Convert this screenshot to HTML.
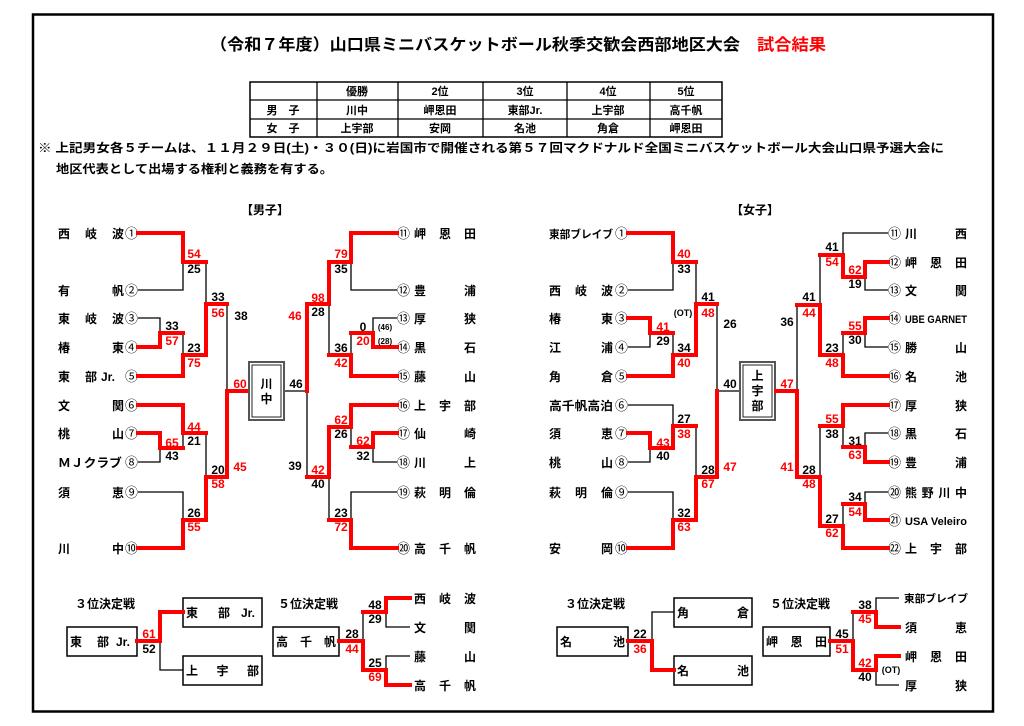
<!DOCTYPE html>
<html><head><meta charset="utf-8"><style>
html,body{margin:0;padding:0;background:#fff;}
svg{display:block;}
text{font-family:"Liberation Sans","Noto Sans CJK JP",sans-serif;font-weight:bold;fill:#000;}
.n{font-size:12px;}
.s{font-size:12px;}
.rd{fill:#f00;}
.c text,text.c{font-family:"Noto Sans CJK JP","DejaVu Sans",sans-serif;font-size:13px;font-weight:normal;}
.r{stroke:#f00;stroke-width:4;fill:none;stroke-linejoin:miter;stroke-linecap:square;}
.b{stroke:#000;stroke-width:1.3;fill:none;}
</style></head><body>
<svg width="1024" height="726" viewBox="0 0 1024 726" xmlns="http://www.w3.org/2000/svg">
<rect x="33" y="14.5" width="960" height="697" fill="none" stroke="#000" stroke-width="2.5"/>
<text x="210" y="50" font-size="16" textLength="530" lengthAdjust="spacingAndGlyphs">（令和７年度）山口県ミニバスケットボール秋季交歓会西部地区大会</text>
<text x="757" y="50" font-size="16" class="rd" textLength="69" lengthAdjust="spacingAndGlyphs">試合結果</text>

<!-- table -->
<g class="b" stroke-width="1">
<rect x="250" y="82" width="472" height="55" stroke-width="1.5"/>
<line x1="250" y1="100" x2="722" y2="100"/><line x1="250" y1="119" x2="722" y2="119"/>
<line x1="317" y1="82" x2="317" y2="137"/><line x1="398" y1="82" x2="398" y2="137"/>
<line x1="483" y1="82" x2="483" y2="137"/><line x1="567" y1="82" x2="567" y2="137"/>
<line x1="650" y1="82" x2="650" y2="137"/>
</g>
<g font-size="11" text-anchor="middle" style="font-weight:normal">
<text x="357" y="95">優勝</text><text x="440" y="95">2位</text><text x="525" y="95">3位</text><text x="608" y="95">4位</text><text x="686" y="95">5位</text>
<text x="283" y="114">男　子</text><text x="357" y="114">川中</text><text x="440" y="114">岬恩田</text><text x="525" y="114">東部Jr.</text><text x="608" y="114">上宇部</text><text x="686" y="114">高千帆</text>
<text x="283" y="132">女　子</text><text x="357" y="132">上宇部</text><text x="440" y="132">安岡</text><text x="525" y="132">名池</text><text x="608" y="132">角倉</text><text x="686" y="132">岬恩田</text>
</g>
<text x="38" y="152" font-size="12" textLength="906" lengthAdjust="spacingAndGlyphs">※ 上記男女各５チームは、１１月２９日(土)・３０(日)に岩国市で開催される第５７回マクドナルド全国ミニバスケットボール大会山口県予選大会に</text>
<text x="56" y="173" font-size="12" textLength="277" lengthAdjust="spacingAndGlyphs">地区代表として出場する権利と義務を有する。</text>

<text x="241" y="214" font-size="12">【男子】</text>
<text x="731" y="214" font-size="12">【女子】</text>

<!-- ===== MEN LEFT ===== -->
<g class="n">
<text x="58" y="238" textLength="66" lengthAdjust="spacing">西岐波</text>
<text x="58" y="295" textLength="66" lengthAdjust="spacing">有帆</text>
<text x="58" y="323" textLength="66" lengthAdjust="spacing">東岐波</text>
<text x="58" y="352" textLength="66" lengthAdjust="spacing">椿東</text>
<text x="58" y="381">東</text><text x="85" y="381">部</text><text x="101" y="381">Jr.</text>
<text x="58" y="410" textLength="66" lengthAdjust="spacing">文関</text>
<text x="58" y="438" textLength="66" lengthAdjust="spacing">桃山</text>
<text x="58" y="467" textLength="64" lengthAdjust="spacingAndGlyphs">ＭＪクラブ</text>
<text x="58" y="497" textLength="66" lengthAdjust="spacing">須恵</text>
<text x="58" y="553" textLength="66" lengthAdjust="spacing">川中</text>
</g>
<g class="c">
<text x="125" y="238">①</text><text x="125" y="295">②</text><text x="125" y="323">③</text><text x="125" y="352">④</text><text x="125" y="381">⑤</text>
<text x="125" y="410">⑥</text><text x="125" y="438">⑦</text><text x="125" y="467">⑧</text><text x="125" y="497">⑨</text><text x="125" y="553">⑩</text>
</g>
<g class="b">
<polyline points="138,290 183,290 183,262"/>
<polyline points="138,318 160,318 160,333"/>
<polyline points="183,333 183,355"/>
<polyline points="206,262 206,304"/>
<polyline points="138,462 160,462 160,448"/>
<polyline points="183,448 183,433"/>
<polyline points="138,492 183,492 183,520"/>
<polyline points="206,433 206,477"/>
<polyline points="227,304 227,391"/>
</g>
<g class="r">
<polyline points="138,233 183,233 183,262 206,262"/>
<polyline points="138,347 160,347 160,333 183,333"/>
<polyline points="138,376 183,376 183,355 206,355 206,304 227,304"/>
<polyline points="138,405 183,405 183,433 206,433"/>
<polyline points="138,433 160,433 160,448 183,448"/>
<polyline points="138,548 183,548 183,520 206,520 206,477 227,477 227,391 248,391"/>
</g>
<g class="s" text-anchor="middle">
<text x="194" y="258" class="rd">54</text><text x="194" y="273">25</text>
<text x="172" y="330">33</text><text x="172" y="345" class="rd">57</text>
<text x="194" y="352">23</text><text x="194" y="367" class="rd">75</text>
<text x="218" y="301">33</text><text x="218" y="317" class="rd">56</text>
<text x="241" y="320">38</text>
<text x="194" y="431" class="rd">44</text><text x="194" y="445">21</text>
<text x="172" y="447" class="rd">65</text><text x="172" y="460">43</text>
<text x="194" y="517">26</text><text x="194" y="531" class="rd">55</text>
<text x="218" y="474">20</text><text x="218" y="488" class="rd">58</text>
<text x="240" y="388" class="rd">60</text><text x="240" y="471" class="rd">45</text>
</g>
<!-- champion men -->
<rect x="249" y="362" width="35" height="58" fill="#fff" stroke="#555" stroke-width="2"/>
<rect x="252" y="365" width="29" height="52" fill="none" stroke="#222" stroke-width="1"/>
<text x="266.5" y="388" class="n" text-anchor="middle">川</text>
<text x="266.5" y="403" class="n" text-anchor="middle">中</text>

<!-- ===== MEN RIGHT ===== -->
<g class="c">
<text x="397" y="238">⑪</text><text x="397" y="295">⑫</text><text x="397" y="323">⑬</text><text x="397" y="352">⑭</text><text x="397" y="381">⑮</text>
<text x="397" y="410">⑯</text><text x="397" y="438">⑰</text><text x="397" y="467">⑱</text><text x="397" y="497">⑲</text><text x="397" y="553">⑳</text>
</g>
<g class="n">
<text x="414" y="238" textLength="62" lengthAdjust="spacing">岬恩田</text>
<text x="414" y="295" textLength="62" lengthAdjust="spacing">豊浦</text>
<text x="414" y="323" textLength="62" lengthAdjust="spacing">厚狭</text>
<text x="414" y="352" textLength="62" lengthAdjust="spacing">黒石</text>
<text x="414" y="381" textLength="62" lengthAdjust="spacing">藤山</text>
<text x="414" y="410" textLength="62" lengthAdjust="spacing">上宇部</text>
<text x="414" y="438" textLength="62" lengthAdjust="spacing">仙崎</text>
<text x="414" y="467" textLength="62" lengthAdjust="spacing">川上</text>
<text x="414" y="497" textLength="62" lengthAdjust="spacing">萩明倫</text>
<text x="414" y="553" textLength="62" lengthAdjust="spacing">高千帆</text>
</g>
<g class="b">
<polyline points="285,391 307,391 307,477"/>
<polyline points="397,290 351,290 351,262"/>
<polyline points="329,304 329,355"/>
<polyline points="397,318 373,318 373,333"/>
<polyline points="351,333 351,355"/>
<polyline points="397,462 373,462 373,447"/>
<polyline points="351,447 351,427"/>
<polyline points="397,492 351,492 351,520"/>
<polyline points="329,477 329,520"/>
</g>
<g class="r">
<polyline points="307,391 307,304 329,304 329,262 351,262 351,233 397,233"/>
<polyline points="397,347 373,347 373,333 351,333"/>
<polyline points="329,355 351,355 351,376 397,376"/>
<polyline points="397,405 351,405 351,427 329,427 329,477 307,477"/>
<polyline points="397,433 373,433 373,447 351,447"/>
<polyline points="397,548 351,548 351,520 329,520"/>
</g>
<g class="s" text-anchor="middle">
<text x="296" y="388">46</text>
<text x="295" y="320" class="rd">46</text><text x="295" y="470">39</text>
<text x="318" y="302" class="rd">98</text><text x="318" y="316">28</text>
<text x="341" y="258" class="rd">79</text><text x="341" y="273">35</text>
<text x="341" y="352">36</text><text x="341" y="367" class="rd">42</text>
<text x="363" y="331">0</text><text x="363" y="345" class="rd">20</text>
<text x="385" y="330" font-size="8">(46)</text><text x="385" y="344" font-size="8">(28)</text>
<text x="341" y="424" class="rd">62</text><text x="341" y="438">26</text>
<text x="363" y="445" class="rd">62</text><text x="363" y="460">32</text>
<text x="318" y="474" class="rd">42</text><text x="318" y="488">40</text>
<text x="341" y="517">23</text><text x="341" y="531" class="rd">72</text>
</g>

<!-- ===== WOMEN LEFT ===== -->
<g class="n">
<text x="549" y="238" textLength="64" lengthAdjust="spacingAndGlyphs" font-size="11">東部ブレイブ</text>
<text x="549" y="295" textLength="64" lengthAdjust="spacing">西岐波</text>
<text x="549" y="323" textLength="64" lengthAdjust="spacing">椿東</text>
<text x="549" y="352" textLength="64" lengthAdjust="spacing">江浦</text>
<text x="549" y="381" textLength="64" lengthAdjust="spacing">角倉</text>
<text x="549" y="410" textLength="64" lengthAdjust="spacingAndGlyphs">高千帆高泊</text>
<text x="549" y="438" textLength="64" lengthAdjust="spacing">須恵</text>
<text x="549" y="467" textLength="64" lengthAdjust="spacing">桃山</text>
<text x="549" y="497" textLength="64" lengthAdjust="spacing">萩明倫</text>
<text x="549" y="553" textLength="64" lengthAdjust="spacing">安岡</text>
</g>
<g class="c">
<text x="615" y="238">①</text><text x="615" y="295">②</text><text x="615" y="323">③</text><text x="615" y="352">④</text><text x="615" y="381">⑤</text>
<text x="615" y="410">⑥</text><text x="615" y="438">⑦</text><text x="615" y="467">⑧</text><text x="615" y="497">⑨</text><text x="615" y="553">⑩</text>
</g>
<g class="b">
<polyline points="628,290 673,290 673,262"/>
<polyline points="628,347 650,347 650,333"/>
<polyline points="673,333 673,355"/>
<polyline points="696,262 696,304"/>
<polyline points="628,405 673,405 673,426"/>
<polyline points="628,462 650,462 650,448"/>
<polyline points="628,492 673,492 673,520"/>
<polyline points="696,426 696,477"/>
<polyline points="717,304 717,391 739,391"/>
</g>
<g class="r">
<polyline points="628,233 673,233 673,262 696,262"/>
<polyline points="628,318 650,318 650,333 673,333"/>
<polyline points="628,376 673,376 673,355 696,355 696,304 717,304"/>
<polyline points="628,433 650,433 650,448 673,448 673,426 696,426"/>
<polyline points="628,548 673,548 673,520 696,520 696,477 717,477 717,391"/>
</g>
<g class="s" text-anchor="middle">
<text x="684" y="258" class="rd">40</text><text x="684" y="273">33</text>
<text x="663" y="331" class="rd">41</text><text x="663" y="345">29</text>
<text x="684" y="352">34</text><text x="684" y="367" class="rd">40</text>
<text x="708" y="301">41</text><text x="708" y="317" class="rd">48</text>
<text x="683" y="316" font-size="9">(OT)</text>
<text x="730" y="328">26</text>
<text x="730" y="388">40</text>
<text x="730" y="471" class="rd">47</text>
<text x="684" y="423">27</text><text x="684" y="438" class="rd">38</text>
<text x="663" y="447" class="rd">43</text><text x="663" y="460">40</text>
<text x="684" y="517">32</text><text x="684" y="531" class="rd">63</text>
<text x="708" y="474">28</text><text x="708" y="488" class="rd">67</text>
</g>
<!-- champion women -->
<rect x="740" y="362" width="35" height="58" fill="#fff" stroke="#555" stroke-width="2"/>
<rect x="743" y="365" width="29" height="52" fill="none" stroke="#222" stroke-width="1"/>
<text x="757.5" y="380" class="n" text-anchor="middle">上</text>
<text x="757.5" y="395" class="n" text-anchor="middle">宇</text>
<text x="757.5" y="410" class="n" text-anchor="middle">部</text>

<!-- ===== WOMEN RIGHT ===== -->
<g class="c">
<text x="888" y="238">⑪</text><text x="888" y="267">⑫</text><text x="888" y="295">⑬</text><text x="888" y="323">⑭</text><text x="888" y="352">⑮</text><text x="888" y="381">⑯</text>
<text x="888" y="410">⑰</text><text x="888" y="438">⑱</text><text x="888" y="467">⑲</text><text x="888" y="497">⑳</text><text x="888" y="525">㉑</text><text x="888" y="553">㉒</text>
</g>
<g class="n">
<text x="905" y="238" textLength="62" lengthAdjust="spacing">川西</text>
<text x="905" y="267" textLength="62" lengthAdjust="spacing">岬恩田</text>
<text x="905" y="295" textLength="62" lengthAdjust="spacing">文関</text>
<text x="905" y="323" textLength="62" lengthAdjust="spacingAndGlyphs" font-size="11">UBE GARNET</text>
<text x="905" y="352" textLength="62" lengthAdjust="spacing">勝山</text>
<text x="905" y="381" textLength="62" lengthAdjust="spacing">名池</text>
<text x="905" y="410" textLength="62" lengthAdjust="spacing">厚狭</text>
<text x="905" y="438" textLength="62" lengthAdjust="spacing">黒石</text>
<text x="905" y="467" textLength="62" lengthAdjust="spacing">豊浦</text>
<text x="905" y="497" textLength="62" lengthAdjust="spacing">熊野川中</text>
<text x="905" y="525" textLength="62" lengthAdjust="spacingAndGlyphs" font-size="11">USA Veleiro</text>
<text x="905" y="553" textLength="62" lengthAdjust="spacing">上宇部</text>
</g>
<g class="b">
<polyline points="797,391 797,305"/>
<polyline points="820,305 820,255"/>
<polyline points="888,233 843,233 843,255"/>
<polyline points="888,290 865,290 865,277"/>
<polyline points="843,355 843,333"/>
<polyline points="888,347 865,347 865,333"/>
<polyline points="820,477 820,426"/>
<polyline points="843,426 843,447"/>
<polyline points="888,433 865,433 865,447"/>
<polyline points="888,492 865,492 865,504"/>
<polyline points="843,504 843,526"/>
</g>
<g class="r">
<polyline points="776,391 797,391 797,477 820,477 820,526 843,526 843,548 888,548"/>
<polyline points="797,305 820,305 820,355 843,355 843,376 888,376"/>
<polyline points="820,255 843,255 843,277 865,277 865,262 888,262"/>
<polyline points="843,333 865,333 865,318 888,318"/>
<polyline points="820,426 843,426 843,405 888,405"/>
<polyline points="843,447 865,447 865,462 888,462"/>
<polyline points="843,504 865,504 865,520 888,520"/>
</g>
<g class="s" text-anchor="middle">
<text x="787" y="388" class="rd">47</text>
<text x="787" y="326">36</text><text x="787" y="471" class="rd">41</text>
<text x="809" y="301">41</text><text x="809" y="317" class="rd">44</text>
<text x="832" y="251">41</text><text x="832" y="266" class="rd">54</text>
<text x="855" y="274" class="rd">62</text><text x="855" y="288">19</text>
<text x="855" y="330" class="rd">55</text><text x="855" y="344">30</text>
<text x="832" y="352">23</text><text x="832" y="367" class="rd">48</text>
<text x="832" y="423" class="rd">55</text><text x="832" y="438">38</text>
<text x="855" y="445">31</text><text x="855" y="459" class="rd">63</text>
<text x="809" y="474">28</text><text x="809" y="488" class="rd">48</text>
<text x="855" y="501">34</text><text x="855" y="516" class="rd">54</text>
<text x="832" y="523">27</text><text x="832" y="537" class="rd">62</text>
</g>

<!-- ===== MEN BOTTOM ===== -->
<text x="75" y="608" class="n">３位決定戦</text>
<text x="278" y="608" class="n">５位決定戦</text>
<g fill="none" stroke="#000" stroke-width="1.5">
<rect x="67" y="627" width="70" height="29"/>
<rect x="183" y="598" width="79" height="29"/>
<rect x="183" y="656" width="79" height="29"/>
<rect x="273" y="627" width="66" height="29"/>
</g>
<g class="n">
<text x="70" y="646">東</text><text x="97" y="646">部</text><text x="116" y="646">Jr.</text>
<text x="186" y="617">東</text><text x="218" y="617">部</text><text x="241" y="617">Jr.</text>
<text x="186" y="675" textLength="73" lengthAdjust="spacing">上宇部</text>
<text x="276" y="646" textLength="60" lengthAdjust="spacing">高千帆</text>
<text x="414" y="603" textLength="62" lengthAdjust="spacing">西岐波</text>
<text x="414" y="632" textLength="62" lengthAdjust="spacing">文関</text>
<text x="414" y="661" textLength="62" lengthAdjust="spacing">藤山</text>
<text x="414" y="690" textLength="62" lengthAdjust="spacing">高千帆</text>
</g>
<g class="b">
<polyline points="160,641 160,670 183,670"/>
<polyline points="363,641 363,612"/>
<polyline points="410,627 386,627 386,612"/>
<polyline points="410,656 386,656 386,670"/>
</g>
<g class="r">
<polyline points="137,641 160,641 160,612 183,612"/>
<polyline points="339,641 363,641 363,670 386,670 386,685 410,685"/>
<polyline points="363,612 386,612 386,598 410,598"/>
</g>
<g class="s" text-anchor="middle">
<text x="149" y="638" class="rd">61</text><text x="149" y="653">52</text>
<text x="352" y="638">28</text><text x="352" y="653" class="rd">44</text>
<text x="375" y="609">48</text><text x="375" y="623">29</text>
<text x="375" y="667">25</text><text x="375" y="681" class="rd">69</text>
</g>

<!-- ===== WOMEN BOTTOM ===== -->
<text x="565" y="608" class="n">３位決定戦</text>
<text x="770" y="608" class="n">５位決定戦</text>
<g fill="none" stroke="#000" stroke-width="1.5">
<rect x="557" y="627" width="71" height="29"/>
<rect x="674" y="598" width="78" height="29"/>
<rect x="674" y="656" width="78" height="29"/>
<rect x="763" y="627" width="67" height="29"/>
</g>
<g class="n">
<text x="560" y="646" textLength="65" lengthAdjust="spacing">名池</text>
<text x="677" y="617" textLength="72" lengthAdjust="spacing">角倉</text>
<text x="677" y="675" textLength="72" lengthAdjust="spacing">名池</text>
<text x="766" y="646" textLength="61" lengthAdjust="spacing">岬恩田</text>
<text x="904" y="602" font-size="10.5" textLength="64" lengthAdjust="spacingAndGlyphs">東部ブレイブ</text>
<text x="905" y="632" textLength="62" lengthAdjust="spacing">須恵</text>
<text x="905" y="661" textLength="62" lengthAdjust="spacing">岬恩田</text>
<text x="905" y="690" textLength="62" lengthAdjust="spacing">厚狭</text>
</g>
<g class="b">
<polyline points="652,641 652,612 674,612"/>
<polyline points="853,641 853,612"/>
<polyline points="899,598 876,598 876,612"/>
<polyline points="899,685 876,685 876,670"/>
</g>
<g class="r">
<polyline points="628,641 652,641 652,670 674,670"/>
<polyline points="830,641 853,641 853,670 876,670 876,656 899,656"/>
<polyline points="853,612 876,612 876,627 899,627"/>
</g>
<g class="s" text-anchor="middle">
<text x="640" y="638">22</text><text x="640" y="653" class="rd">36</text>
<text x="842" y="638">45</text><text x="842" y="653" class="rd">51</text>
<text x="865" y="609">38</text><text x="865" y="623" class="rd">45</text>
<text x="865" y="667" class="rd">42</text><text x="865" y="681">40</text>
<text x="891" y="673" font-size="9">(OT)</text>
</g>
</svg>
</body></html>
